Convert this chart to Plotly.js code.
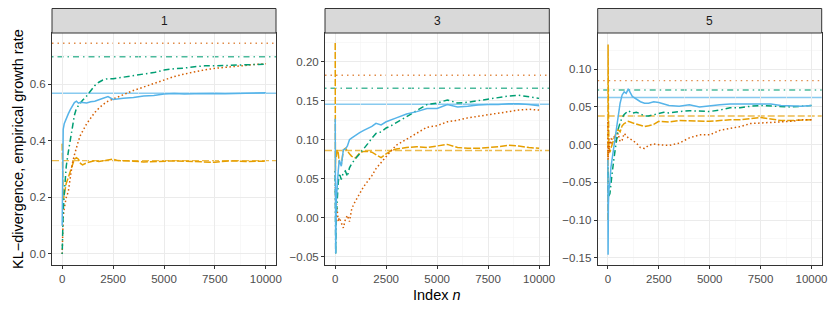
<!DOCTYPE html>
<html>
<head>
<meta charset="utf-8">
<script src="https://cdn.plot.ly/plotly-3.0.1.min.js"></script>
<style>html,body{margin:0;padding:0;background:#fff;}#chart{width:830px;height:312px;}</style>
</head>
<body>
<div id="chart"></div>
<script>
// Panel labels
const panels = ["1", "3", "5"];
// Index n sample positions (shared by all series)
const idx = [0, 10, 25, 50, 100, 150, 200, 300, 400, 500, 600, 700, 800, 900, 1000, 1200, 1400, 1600, 1800, 2000, 2250, 2500, 2750, 3000, 3500, 4000, 4500, 5000, 5500, 6000, 6500, 7000, 7500, 8000, 8500, 9000, 9500, 10000];

// Panel "1"
const blue1 = [0.10,0.25,0.38,0.44,0.46,0.47,0.48,0.495,0.51,0.525,0.535,0.54,0.533,0.536,0.535,0.534,0.538,0.54,0.545,0.55,0.556,0.546,0.547,0.55,0.553,0.558,0.56,0.565,0.567,0.565,0.566,0.567,0.567,0.566,0.567,0.568,0.569,0.570];
const orange1 = [0.39,0.25,0.20,0.19,0.21,0.23,0.25,0.27,0.29,0.31,0.335,0.34,0.335,0.32,0.315,0.322,0.326,0.33,0.327,0.33,0.333,0.335,0.33,0.33,0.328,0.325,0.327,0.328,0.329,0.328,0.327,0.326,0.324,0.328,0.329,0.327,0.328,0.328];
const green1 = [0.0,0.05,0.10,0.15,0.21,0.27,0.31,0.36,0.40,0.45,0.49,0.515,0.525,0.535,0.543,0.558,0.575,0.595,0.607,0.615,0.62,0.619,0.622,0.625,0.632,0.636,0.641,0.65,0.655,0.657,0.662,0.665,0.665,0.666,0.666,0.667,0.669,0.671];
const verm1 = [0.0,0.06,0.10,0.13,0.16,0.19,0.20,0.22,0.28,0.32,0.35,0.38,0.40,0.42,0.435,0.46,0.48,0.50,0.515,0.528,0.54,0.548,0.555,0.562,0.578,0.59,0.603,0.615,0.627,0.636,0.644,0.651,0.656,0.66,0.664,0.667,0.67,0.672];

// Panel "3"
const blue3 = [0.127,0.02,-0.046,0.02,0.05,0.06,0.074,0.066,0.087,0.088,0.092,0.10,0.102,0.104,0.106,0.109,0.112,0.114,0.117,0.121,0.119,0.123,0.126,0.128,0.133,0.136,0.14,0.14,0.145,0.142,0.143,0.1445,0.145,0.145,0.146,0.146,0.145,0.1435];
const orange3 = [0.224,0.06,0.085,0.078,0.087,0.083,0.07,0.068,0.087,0.089,0.085,0.082,0.079,0.077,0.077,0.083,0.085,0.085,0.084,0.081,0.077,0.082,0.086,0.088,0.09,0.091,0.09,0.092,0.094,0.09,0.089,0.089,0.09,0.091,0.093,0.092,0.09,0.089];
const green3 = [0.06,-0.02,-0.047,0.0,0.03,0.045,0.057,0.049,0.058,0.06,0.053,0.064,0.069,0.073,0.076,0.082,0.088,0.095,0.102,0.108,0.11,0.115,0.118,0.122,0.13,0.137,0.145,0.147,0.151,0.147,0.148,0.15,0.152,0.154,0.156,0.157,0.155,0.153];
const verm3 = [0.06,0.03,0.0,0.02,0.01,-0.005,0.0,-0.007,-0.013,-0.002,0.003,-0.005,0.01,0.017,0.022,0.032,0.04,0.047,0.054,0.063,0.071,0.079,0.086,0.093,0.101,0.109,0.116,0.118,0.123,0.125,0.128,0.13,0.132,0.134,0.136,0.138,0.139,0.138];

// Panel "5"
const blue5 = [-0.02,-0.146,-0.08,-0.06,-0.05,-0.03,-0.02,-0.002,0.018,0.04,0.055,0.066,0.07,0.068,0.074,0.064,0.06,0.057,0.055,0.055,0.057,0.056,0.054,0.052,0.051,0.053,0.05,0.052,0.053,0.054,0.054,0.055,0.055,0.054,0.052,0.051,0.051,0.052];
const orange5 = [-0.10,0.133,0.05,0.0,-0.01,-0.005,0.0,0.008,0.015,0.02,0.017,0.025,0.028,0.03,0.031,0.029,0.027,0.025,0.024,0.025,0.027,0.031,0.031,0.03,0.032,0.0315,0.031,0.031,0.032,0.033,0.033,0.035,0.036,0.034,0.032,0.032,0.0325,0.033];
const green5 = [-0.03,-0.05,-0.07,-0.068,-0.065,-0.05,-0.04,-0.018,0.003,0.02,0.029,0.036,0.04,0.043,0.045,0.042,0.043,0.041,0.038,0.038,0.04,0.042,0.043,0.042,0.044,0.045,0.044,0.044,0.046,0.049,0.049,0.051,0.052,0.051,0.05,0.05,0.051,0.052];
const verm5 = [0.03,-0.02,0.0,-0.012,0.008,0.0,0.008,0.011,0.002,0.015,0.004,0.006,0.015,0.012,0.009,0.006,0.002,-0.004,-0.005,-0.001,0.001,0.0,0.0,-0.001,0.002,0.009,0.013,0.013,0.019,0.021,0.024,0.028,0.029,0.03,0.0305,0.031,0.033,0.033];

// Reference (KL-divergence) levels: [vermillion, green, blue, orange]
const ref1 = [0.745, 0.697, 0.568, 0.330];
const ref3 = [0.1826, 0.166, 0.1455, 0.0862];
const ref5 = [0.085, 0.0725, 0.0625, 0.038];

// Axis tick labels
const xTicks = [0, 2500, 5000, 7500, 10000];

const colors = {blue: '#56B4E9', orange: '#E69F00', green: '#009E73', verm: '#D55E00'};
const refDashes = {blue: 'solid', orange: '7px,3px', green: '1.5px,4px,6px,4px', verm: '1.5px,4px'};
const curveDashes = {blue: 'solid', orange: '7px,2px', green: '1.5px,3px,6px,3px', verm: '1.5px,2.5px'};
const seriesByPanel = [
  {blue: blue1, orange: orange1, green: green1, verm: verm1, ref: ref1},
  {blue: blue3, orange: orange3, green: green3, verm: verm3, ref: ref3},
  {blue: blue5, orange: orange5, green: green5, verm: verm5, ref: ref5}
];
const refOrder = ['verm', 'green', 'blue', 'orange'];

const xDomains = [[52/830, 276/830], [325/830, 549.3/830], [597.7/830, 821.7/830]];
const yDomain = [(312-265)/312, (312-33)/312];
const stripTop = (312-8.5)/312;
const yRanges = [[-0.039, 0.781], [-0.0606, 0.2368], [-0.1597, 0.1482]];
const yDticks = [0.2, 0.05, 0.05];
const yFormats = ['.1f', '.2f', '.2f'];

const traces = [];
const shapes = [];
const annotations = [];
const layout = {
  width: 830, height: 312,
  margin: {l: 0, r: 0, t: 0, b: 0},
  paper_bgcolor: '#fff', plot_bgcolor: '#fff',
  showlegend: false,
  font: {family: 'Liberation Sans, Arial, sans-serif', size: 11.5, color: '#4D4D4D'}
};

seriesByPanel.forEach((p, i) => {
  const sfx = i === 0 ? '' : String(i + 1);
  const xa = 'x' + sfx, ya = 'y' + sfx;
  refOrder.forEach((k, j) => {
    shapes.push({type: 'line', xref: xa + ' domain', yref: ya, x0: 0, x1: 1, y0: p.ref[j], y1: p.ref[j],
      layer: 'below', opacity: 0.7, line: {color: colors[k], width: 1.4, dash: refDashes[k]}});
  });
  ['orange', 'verm', 'green', 'blue'].forEach(k => {
    traces.push({x: idx, y: p[k], xaxis: xa, yaxis: ya, type: 'scatter', mode: 'lines',
      line: {color: colors[k], width: 1.5, dash: curveDashes[k]}, hoverinfo: 'skip'});
  });
  layout['xaxis' + sfx] = {
    domain: xDomains[i], anchor: ya, range: [-500, 10500],
    tickvals: xTicks, ticktext: xTicks.map(String),
    ticks: 'outside', ticklen: 3, tickcolor: '#333', tickwidth: 1,
    showline: true, mirror: true, linecolor: '#333', linewidth: 1,
    showgrid: true, gridcolor: '#EBEBEB', gridwidth: 1, zeroline: false,
    minor: {tickvals: [-1250, 1250, 3750, 6250, 8750], showgrid: true, gridcolor: '#F4F4F4', gridwidth: 0.6},
    tickfont: {size: 11.5, color: '#4D4D4D'}
  };
  layout['yaxis' + sfx] = {
    domain: yDomain, anchor: xa, range: yRanges[i],
    tick0: 0, dtick: yDticks[i], tickformat: yFormats[i],
    ticks: 'outside', ticklen: 3, tickcolor: '#333', tickwidth: 1,
    showline: true, mirror: true, linecolor: '#333', linewidth: 1,
    showgrid: true, gridcolor: '#EBEBEB', gridwidth: 1, zeroline: false,
    minor: {tick0: yDticks[i] / 2, dtick: yDticks[i], showgrid: true, gridcolor: '#F4F4F4', gridwidth: 0.6},
    tickfont: {size: 11.5, color: '#4D4D4D'}
  };
  shapes.push({type: 'rect', xref: 'paper', yref: 'paper', x0: xDomains[i][0], x1: xDomains[i][1],
    y0: yDomain[1], y1: stripTop, fillcolor: '#D9D9D9', line: {color: '#333', width: 1}, layer: 'above'});
  annotations.push({xref: 'paper', yref: 'paper', x: (xDomains[i][0] + xDomains[i][1]) / 2,
    y: (yDomain[1] + stripTop) / 2, text: panels[i], showarrow: false,
    font: {size: 12, color: '#1A1A1A'}, xanchor: 'center', yanchor: 'middle'});
});

annotations.push({xref: 'paper', yref: 'paper', x: 18/830, y: (yDomain[0] + yDomain[1]) / 2,
  text: 'KL\u2212divergence, empirical growth rate', textangle: -90, showarrow: false,
  font: {size: 14.5, color: '#000'}, xanchor: 'center', yanchor: 'middle'});
annotations.push({xref: 'paper', yref: 'paper', x: 437/830, y: (312-295)/312,
  text: 'Index <i>n</i>', showarrow: false,
  font: {size: 14.5, color: '#000'}, xanchor: 'center', yanchor: 'middle'});

layout.shapes = shapes;
layout.annotations = annotations;

Plotly.newPlot('chart', traces, layout, {staticPlot: true, displayModeBar: false});
</script>
</body>
</html>
